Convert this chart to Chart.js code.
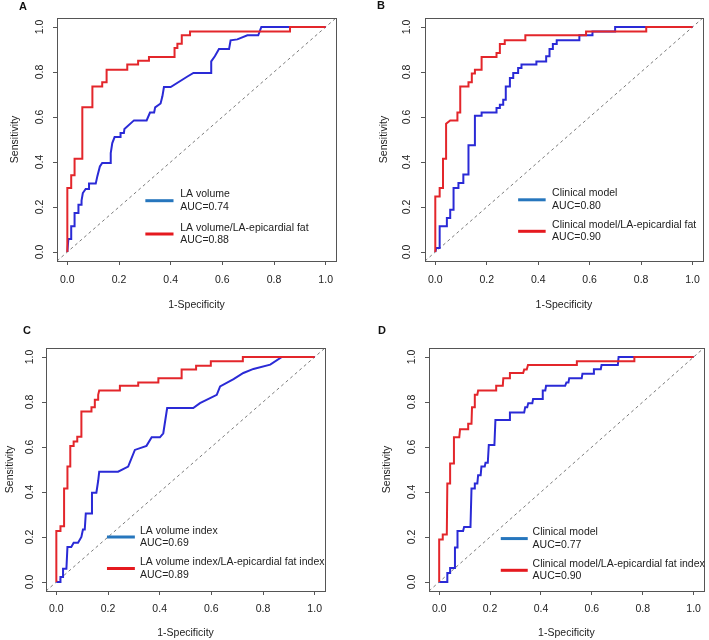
<!DOCTYPE html>
<html>
<head>
<meta charset="utf-8">
<script src="https://cdn.jsdelivr.net/npm/chart.js@4.4.1/dist/chart.umd.min.js"></script>
<style>
  body { margin: 0; background: #fff; }
  #wrap { position: relative; width: 709px; height: 640px; overflow: hidden; }
  canvas { position: absolute; }
  .tag { position: absolute; font: bold 11px "Liberation Sans", Arial, sans-serif; line-height: 12px; color: #111; }
</style>
</head>
<body>
<div id="wrap">
  <canvas id="chartA" width="355" height="320" style="left:0;top:0"></canvas>
  <canvas id="chartB" width="355" height="320" style="left:354px;top:0"></canvas>
  <canvas id="chartC" width="355" height="320" style="left:0;top:320px"></canvas>
  <canvas id="chartD" width="355" height="320" style="left:354px;top:320px"></canvas>
  <div class="tag" style="left:19px;top:0">A</div>
  <div class="tag" style="left:377px;top:-1px">B</div>
  <div class="tag" style="left:23px;top:324px">C</div>
  <div class="tag" style="left:378px;top:324px">D</div>
</div>
<script>
// tick values shared by both axes
const tickValues = [0, 0.2, 0.4, 0.6, 0.8, 1.0];
const diagX = [-0.04, 1.04];
const diagY = [-0.04, 1.04];

// Panel A: LA volume (blue) vs LA volume/LA-epicardial fat (red)
const namesA = ["LA volume", "LA volume/LA-epicardial fat"];
const aucA = ["0.74", "0.88"];
const aBlueX = [0, 0.004, 0.015, 0.015, 0.028, 0.028, 0.043, 0.043, 0.055, 0.055, 0.06, 0.071, 0.084, 0.084, 0.11, 0.116, 0.126, 0.135, 0.168, 0.168, 0.174, 0.183, 0.204, 0.206, 0.219, 0.221, 0.258, 0.307, 0.32, 0.336, 0.34, 0.361, 0.368, 0.374, 0.4, 0.465, 0.488, 0.557, 0.557, 0.571, 0.587, 0.626, 0.632, 0.658, 0.697, 0.739, 0.751, 1];
const aBlueY = [0, 0.058, 0.058, 0.114, 0.114, 0.173, 0.173, 0.21, 0.21, 0.228, 0.262, 0.28, 0.28, 0.304, 0.304, 0.336, 0.38, 0.396, 0.396, 0.44, 0.484, 0.511, 0.511, 0.529, 0.529, 0.547, 0.585, 0.585, 0.62, 0.62, 0.643, 0.66, 0.692, 0.733, 0.733, 0.78, 0.796, 0.796, 0.847, 0.87, 0.902, 0.902, 0.941, 0.945, 0.963, 0.963, 1, 1];
const aRedX = [0, 0, 0.015, 0.015, 0.028, 0.028, 0.058, 0.058, 0.097, 0.097, 0.135, 0.135, 0.152, 0.152, 0.232, 0.232, 0.274, 0.274, 0.316, 0.316, 0.415, 0.415, 0.426, 0.426, 0.443, 0.443, 0.475, 0.475, 0.862, 0.862, 1];
const aRedY = [0, 0.284, 0.284, 0.341, 0.341, 0.415, 0.415, 0.643, 0.643, 0.736, 0.736, 0.754, 0.754, 0.81, 0.81, 0.833, 0.833, 0.85, 0.85, 0.867, 0.867, 0.907, 0.907, 0.926, 0.926, 0.963, 0.963, 0.98, 0.98, 1, 1];

// Panel B: Clinical model vs Clinical model/LA-epicardial fat
const namesB = ["Clinical model", "Clinical model/LA-epicardial fat"];
const aucB = ["0.80", "0.90"];
const bBlueX = [0, 0.004, 0.017, 0.017, 0.045, 0.045, 0.058, 0.058, 0.071, 0.071, 0.09, 0.09, 0.109, 0.109, 0.129, 0.129, 0.154, 0.154, 0.18, 0.18, 0.238, 0.238, 0.251, 0.251, 0.264, 0.264, 0.274, 0.274, 0.29, 0.29, 0.303, 0.303, 0.322, 0.322, 0.335, 0.335, 0.393, 0.393, 0.431, 0.431, 0.444, 0.444, 0.457, 0.457, 0.472, 0.472, 0.56, 0.56, 0.611, 0.611, 0.699, 0.699, 1];
const bBlueY = [0, 0.018, 0.018, 0.114, 0.114, 0.151, 0.151, 0.188, 0.188, 0.284, 0.284, 0.307, 0.307, 0.344, 0.344, 0.474, 0.474, 0.606, 0.606, 0.62, 0.62, 0.64, 0.64, 0.655, 0.655, 0.677, 0.677, 0.736, 0.736, 0.773, 0.773, 0.796, 0.796, 0.818, 0.818, 0.833, 0.833, 0.847, 0.847, 0.87, 0.87, 0.902, 0.902, 0.924, 0.924, 0.941, 0.941, 0.963, 0.963, 0.98, 0.98, 1, 1];
const bRedX = [0, 0, 0.017, 0.017, 0.03, 0.03, 0.042, 0.042, 0.058, 0.086, 0.086, 0.097, 0.097, 0.129, 0.129, 0.142, 0.142, 0.154, 0.154, 0.18, 0.18, 0.238, 0.238, 0.251, 0.251, 0.27, 0.27, 0.35, 0.35, 0.586, 0.586, 0.82, 0.82, 1];
const bRedY = [0, 0.247, 0.247, 0.284, 0.284, 0.415, 0.415, 0.57, 0.585, 0.585, 0.62, 0.62, 0.736, 0.736, 0.754, 0.754, 0.793, 0.793, 0.81, 0.81, 0.867, 0.867, 0.884, 0.884, 0.924, 0.924, 0.941, 0.941, 0.963, 0.963, 0.98, 0.98, 1, 1];

// Panel C: LA volume index vs LA volume index/LA-epicardial fat index
const namesC = ["LA volume index", "LA volume index/LA-epicardial fat index"];
const aucC = ["0.69", "0.89"];
const cBlueX = [0, 0.016, 0.016, 0.026, 0.026, 0.039, 0.043, 0.058, 0.067, 0.084, 0.097, 0.103, 0.11, 0.114, 0.136, 0.138, 0.155, 0.162, 0.166, 0.239, 0.278, 0.304, 0.349, 0.369, 0.401, 0.414, 0.429, 0.53, 0.556, 0.621, 0.634, 0.686, 0.724, 0.763, 0.828, 0.873, 1];
const cBlueY = [0, 0, 0.022, 0.022, 0.059, 0.059, 0.156, 0.156, 0.174, 0.174, 0.2, 0.233, 0.233, 0.305, 0.305, 0.397, 0.397, 0.45, 0.49, 0.49, 0.513, 0.587, 0.605, 0.643, 0.643, 0.661, 0.773, 0.773, 0.795, 0.832, 0.869, 0.902, 0.929, 0.947, 0.966, 1, 1];
const cRedX = [0, 0, 0.016, 0.016, 0.03, 0.03, 0.043, 0.043, 0.054, 0.054, 0.067, 0.067, 0.081, 0.081, 0.097, 0.097, 0.136, 0.136, 0.149, 0.149, 0.162, 0.162, 0.166, 0.246, 0.246, 0.317, 0.317, 0.395, 0.395, 0.485, 0.485, 0.541, 0.541, 0.598, 0.598, 0.722, 0.722, 1];
const cRedY = [0, 0.227, 0.227, 0.248, 0.248, 0.416, 0.416, 0.513, 0.513, 0.605, 0.605, 0.624, 0.624, 0.646, 0.646, 0.758, 0.758, 0.777, 0.777, 0.81, 0.81, 0.832, 0.851, 0.851, 0.872, 0.872, 0.887, 0.887, 0.906, 0.906, 0.944, 0.944, 0.961, 0.961, 0.981, 0.981, 1, 1];

// Panel D: Clinical model vs Clinical model/LA-epicardial fat index
const namesD = ["Clinical model", "Clinical model/LA-epicardial fat index"];
const aucD = ["0.77", "0.90"];
const dBlueX = [0, 0.032, 0.032, 0.043, 0.043, 0.06, 0.062, 0.072, 0.072, 0.094, 0.098, 0.123, 0.127, 0.137, 0.14, 0.15, 0.153, 0.163, 0.166, 0.179, 0.182, 0.191, 0.195, 0.217, 0.221, 0.276, 0.278, 0.334, 0.338, 0.346, 0.35, 0.366, 0.369, 0.405, 0.407, 0.417, 0.42, 0.495, 0.5, 0.508, 0.511, 0.56, 0.563, 0.605, 0.608, 0.635, 0.638, 0.702, 0.705, 1];
const dBlueY = [0, 0, 0.04, 0.04, 0.062, 0.062, 0.153, 0.153, 0.227, 0.227, 0.245, 0.245, 0.416, 0.416, 0.438, 0.438, 0.475, 0.475, 0.513, 0.513, 0.53, 0.53, 0.609, 0.609, 0.72, 0.72, 0.753, 0.753, 0.777, 0.777, 0.795, 0.795, 0.813, 0.813, 0.851, 0.851, 0.872, 0.872, 0.887, 0.887, 0.906, 0.906, 0.926, 0.926, 0.946, 0.946, 0.964, 0.964, 1, 1];
const dRedX = [0, 0, 0.014, 0.014, 0.03, 0.032, 0.043, 0.043, 0.056, 0.058, 0.079, 0.082, 0.114, 0.114, 0.127, 0.129, 0.14, 0.14, 0.15, 0.153, 0.224, 0.224, 0.25, 0.252, 0.276, 0.278, 0.33, 0.334, 0.344, 0.349, 0.541, 0.541, 0.767, 0.767, 1];
const dRedY = [0, 0.189, 0.189, 0.211, 0.211, 0.438, 0.438, 0.527, 0.527, 0.643, 0.643, 0.679, 0.679, 0.703, 0.703, 0.777, 0.777, 0.832, 0.832, 0.851, 0.851, 0.872, 0.872, 0.906, 0.906, 0.929, 0.929, 0.944, 0.944, 0.964, 0.964, 0.981, 0.981, 1, 1];

const BLUE = "#2a2ad6";
const RED = "#e3262b";
const BLUE_KEY = "#2676bd";
const RED_KEY = "#e5191f";
const FONT = '"Liberation Sans", Arial, sans-serif';

Chart.defaults.font.family = FONT;
Chart.defaults.font.size = 10.5;
Chart.defaults.color = "#222";

// frame around the plotting region (R style box)
const boxPlugin = {
    id: "rbox",
    afterDraw(chart) {
        const a = chart.chartArea;
        const ctx = chart.ctx;
        ctx.save();
        ctx.strokeStyle = "#555";
        ctx.lineWidth = 1;
        ctx.strokeRect(Math.round(a.left) + 0.5, Math.round(a.top) + 0.5,
            Math.round(a.right - a.left), Math.round(a.bottom - a.top));
        ctx.restore();
    }
};

// R-like legend: short thick line + two text lines (name, AUC)
const rocLegend = {
    id: "rocLegend",
    afterDraw(chart, args, opts) {
        const xs = chart.scales.x, ys = chart.scales.y;
        const ctx = chart.ctx;
        const x1 = xs.getPixelForValue(opts.x1);
        const x2 = xs.getPixelForValue(opts.x2);
        const xt = xs.getPixelForValue(opts.xt);
        let k = 0;
        ctx.save();
        chart.data.datasets.forEach(ds => {
            if (!ds.auc) return;
            const y = ys.getPixelForValue(opts.y[k++]);
            ctx.strokeStyle = ds.legendColor;
            ctx.lineWidth = 3;
            ctx.beginPath();
            ctx.moveTo(x1, y);
            ctx.lineTo(x2, y);
            ctx.stroke();
            ctx.fillStyle = "#222";
            ctx.font = "10.5px " + FONT;
            ctx.textBaseline = "middle";
            ctx.textAlign = "left";
            ctx.fillText(ds.label, xt, y - 6.2);
            ctx.fillText("AUC=" + ds.auc, xt, y + 6.2);
        });
        ctx.restore();
    }
};

function pts(xs, ys) {
    return xs.map((x, i) => ({ x: x, y: ys[i] }));
}

function makePanel(id, f, blueX, blueY, redX, redY, names, aucs, leg) {
    const lineDefaults = { showLine: true, pointRadius: 0, borderWidth: 2, tension: 0, fill: false };
    new Chart(document.getElementById(id), {
        type: "scatter",
        data: {
            datasets: [
                Object.assign({ label: names[0], auc: aucs[0], data: pts(blueX, blueY),
                    borderColor: BLUE, legendColor: BLUE_KEY, order: 1 }, lineDefaults),
                Object.assign({ label: names[1], auc: aucs[1], data: pts(redX, redY),
                    borderColor: RED, legendColor: RED_KEY, order: 0 }, lineDefaults),
                Object.assign({ label: "ref", data: pts(diagX, diagY), order: 2 }, lineDefaults,
                    { borderColor: "#7a7a7a", borderWidth: 1, borderDash: [3, 3] })
            ]
        },
        options: {
            responsive: false,
            animation: false,
            layout: { padding: { left: 0, top: f.padTop, right: f.padRight, bottom: 0 } },
            plugins: {
                legend: { display: false },
                tooltip: { enabled: false },
                rocLegend: leg
            },
            scales: {
                x: {
                    type: "linear", min: -0.04, max: 1.04,
                    afterBuildTicks: s => { s.ticks = tickValues.map(v => ({ value: v })); },
                    afterFit: s => { s.height = f.xH; },
                    border: { display: false },
                    grid: { display: true, drawOnChartArea: false, drawTicks: true, tickLength: 4, color: "#555" },
                    ticks: { padding: f.xTickPad, autoSkip: false, maxRotation: 0, callback: v => v.toFixed(1) },
                    title: { display: true, text: "1-Specificity", padding: { top: 0, bottom: f.xTitlePad } }
                },
                y: {
                    type: "linear", min: -0.04, max: 1.04,
                    afterBuildTicks: s => { s.ticks = tickValues.map(v => ({ value: v })); },
                    afterFit: s => { s.width = f.yW; },
                    border: { display: false },
                    grid: { display: true, drawOnChartArea: false, drawTicks: true, tickLength: 4, color: "#555" },
                    ticks: { padding: f.yTickPad, autoSkip: false, minRotation: 90, maxRotation: 90,
                        crossAlign: "center", callback: v => v.toFixed(1) },
                    title: { display: true, text: "Sensitivity", padding: { top: f.yTitlePad, bottom: 0 } }
                }
            }
        },
        plugins: [boxPlugin, rocLegend]
    });
}

makePanel("chartA", { padTop: 18, padRight: 19, yW: 57, xH: 59, yTickPad: 5.7, yTitlePad: 8.7, xTickPad: 9, xTitlePad: 8.7 },
    aBlueX, aBlueY, aRedX, aRedY, namesA, aucA, { x1: 0.302, x2: 0.411, xt: 0.437, y: [0.228, 0.08] });
makePanel("chartB", { padTop: 18, padRight: 4, yW: 71, xH: 59, yTickPad: 6.4, yTitlePad: 23.7, xTickPad: 9, xTitlePad: 8.7 },
    bBlueX, bBlueY, bRedX, bRedY, namesB, aucB, { x1: 0.322, x2: 0.429, xt: 0.454, y: [0.232, 0.092] });
makePanel("chartC", { padTop: 28, padRight: 30, yW: 46, xH: 49, yTickPad: 4.7, yTitlePad: 3.7, xTickPad: 8, xTitlePad: 0.7 },
    cBlueX, cBlueY, cRedX, cRedY, namesC, aucC, { x1: 0.196, x2: 0.304, xt: 0.324, y: [0.2, 0.06] });
makePanel("chartD", { padTop: 28, padRight: 1, yW: 75, xH: 49, yTickPad: 5.4, yTitlePad: 27, xTickPad: 8, xTitlePad: 0.7 },
    dBlueX, dBlueY, dRedX, dRedY, namesD, aucD, { x1: 0.242, x2: 0.348, xt: 0.367, y: [0.193, 0.052] });
</script>
</body>
</html>
